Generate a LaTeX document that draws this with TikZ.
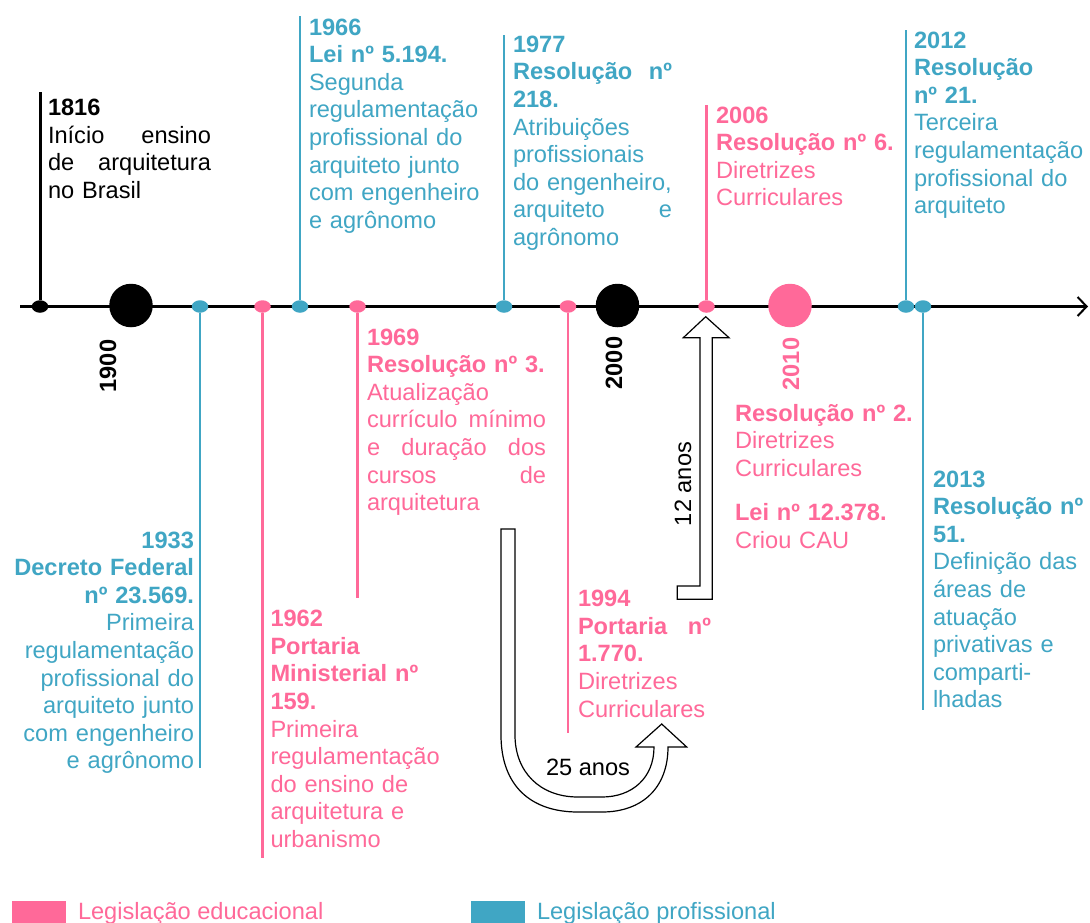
\documentclass[tikz,border=0pt]{standalone}
\usepackage{fontspec}
\setmainfont{Liberation Sans}
\usetikzlibrary{arrows.meta,shapes.geometric}
\definecolor{edu}{RGB}{255,105,153}
\definecolor{prof}{RGB}{64,166,196}
% one justified line, its spaces stretched to the given width
\newcommand{\jline}[2]{\makebox[#1][s]{\spaceskip=.278em plus 1fil\relax #2}}

\begin{document}
\begin{tikzpicture}[x=1pt,y=-1pt,
  txt/.style={inner sep=0pt, outer sep=0pt, anchor=base west, align=left,
              text width=230pt, font=\fontsize{23.6}{27.6}\selectfont},
  txtr/.style={txt, anchor=base east, align=right},
  yearlab/.style={inner sep=0pt, rotate=90, font=\fontsize{23.6}{27.6}\selectfont\bfseries},
  dotm/.style={ellipse, minimum width=16.5pt, minimum height=12.5pt, inner sep=0pt, draw=none},
  bigdot/.style={circle, minimum size=43.5pt, inner sep=0pt, draw=none},
  vline/.style={line width=2.8pt, #1},
  blockarrow/.style={draw=black, line width=1.2pt, fill=white, line join=miter},
  legbox/.style={inner sep=0pt, draw=none}
]
\useasboundingbox (0,0) rectangle (1090,922);
\clip (0,0) rectangle (1090,922);
\fill[white] (0,0) rectangle (1090,922);

% time axis
\coordinate (axL) at (20,306.5);
\coordinate (axR) at (1088,306.5);
\draw[line width=3pt, -{Straight Barb[length=9pt,width=19pt,line width=2pt]}] (axL) -- (axR);

% markers on the axis
\node[dotm, fill=black] (e1816) at (40,306.5) {};
\node[bigdot, fill=black] (c1900) at (131,305.5) {};
\node[dotm, fill=prof] (e1933) at (200,306.5) {};
\node[dotm, fill=edu] (e1962) at (262.5,306.5) {};
\node[dotm, fill=prof] (e1966) at (300,306.5) {};
\node[dotm, fill=edu] (e1969) at (357.5,306.5) {};
\node[dotm, fill=prof] (e1977) at (504,306.5) {};
\node[dotm, fill=edu] (e1994) at (568,306.5) {};
\node[bigdot, fill=black] (c2000) at (617.5,305.5) {};
\node[dotm, fill=edu] (e2006) at (706.5,306.5) {};
\node[bigdot, fill=edu] (c2010) at (790,305.5) {};
\node[dotm, fill=prof] (e2012) at (906,306.5) {};
\node[dotm, fill=prof] (e2013) at (923,306.5) {};

% ends of the stems
\coordinate (t1816) at (40,92);
\coordinate (t1933) at (200,768);
\coordinate (t1962) at (262.5,858);
\coordinate (t1966) at (300,16);
\coordinate (t1969) at (357.5,598);
\coordinate (t1977) at (504,35);
\coordinate (t1994) at (568,733);
\coordinate (t2006) at (706.5,105);
\coordinate (t2012) at (906,30);
\coordinate (t2013) at (923,710);

\draw[line width=3pt, black] (e1816) -- (t1816);
\draw[vline=prof] (e1933) -- (t1933);
\draw[vline=edu] (e1962) -- (t1962);
\draw[vline=prof] (e1966) -- (t1966);
\draw[vline=edu] (e1969) -- (t1969);
\draw[vline=prof] (e1977) -- (t1977);
\draw[vline=edu] (e1994) -- (t1994);
\draw[vline=edu] (e2006) -- (t2006);
\draw[vline=prof] (e2012) -- (t2012);
\draw[vline=prof] (e2013) -- (t2013);

% decade labels
\node[yearlab, black] (y1900) at (108,366) {1900};
\node[yearlab, black] (y2000) at (614,363) {2000};
\node[yearlab, edu] (y2010) at (791,364) {2010};

% event texts
\node[txt, black] (x1816) at (48,115.5)
  {\textbf{1816}\\ \jline{163pt}{Início ensino}\\ \jline{163pt}{de arquitetura}\\ no Brasil};

\node[txtr, prof] (x1933) at (194,548)
  {\textbf{1933}\\ \textbf{Decreto Federal}\\ \textbf{nº 23.569.}\\ Primeira\\ regulamentação\\
   profissional do\\ arquiteto junto\\ com engenheiro\\ e agrônomo};

\node[txt, edu] (x1962) at (270.5,626.7)
  {\textbf{1962}\\ \textbf{Portaria}\\ \textbf{Ministerial nº}\\ \textbf{159.}\\ Primeira\\
   regulamentação\\ do ensino de\\ arquitetura e\\ urbanismo};

\node[txt, prof] (x1966) at (309,35)
  {\textbf{1966}\\ \textbf{Lei nº 5.194.}\\ Segunda\\ regulamentação\\ profissional do\\
   arquiteto junto\\ com engenheiro\\ e agrônomo};

\node[txt, edu] (x1969) at (367,345)
  {\textbf{1969}\\ \textbf{Resolução nº 3.}\\ Atualização\\ \jline{179pt}{currículo mínimo}\\
   \jline{179pt}{e duração dos}\\ \jline{179pt}{cursos de}\\ arquitetura};

\node[txt, prof] (x1977) at (513,52.3)
  {\textbf{1977}\\ \jline{159pt}{\textbf{Resolução nº}}\\ \textbf{218.}\\ Atribuições\\ profissionais\\
   do engenheiro,\\ \jline{159pt}{arquiteto e}\\ agrônomo};

\node[txt, edu] (x1994) at (578,606.7)
  {\textbf{1994}\\ \jline{133pt}{\textbf{Portaria nº}}\\ \textbf{1.770.}\\ Diretrizes\\ Curriculares};

\node[txt, edu] (x2006) at (716,123)
  {\textbf{2006}\\ \textbf{Resolução nº 6.}\\ Diretrizes\\ Curriculares};

\node[txt, edu] (x2010) at (735,421)
  {\textbf{Resolução nº 2.}\\ Diretrizes\\ Curriculares\\[17pt] \textbf{Lei nº 12.378.}\\ Criou CAU};

\node[txt, prof] (x2012) at (914,48)
  {\textbf{2012}\\ \textbf{Resolução}\\ \textbf{nº 21.}\\ Terceira\\ regulamentação\\
   profissional do\\ arquiteto};

\node[txt, prof] (x2013) at (933,487)
  {\textbf{2013}\\ \textbf{Resolução nº}\\ \textbf{51.}\\ Definição das\\ áreas de\\ atuação\\
   privativas e\\ comparti-\\ lhadas};

% hollow arrow: 12 years
\draw[blockarrow] (705.7,316.7) -- (729,337.7) -- (712.3,337.7) -- (712.3,599.3)
  -- (677.3,599.3) -- (677.3,586) -- (700,586) -- (700,337.7) -- (683.3,337.7) -- cycle;
\node[inner sep=0pt, rotate=90, font=\fontsize{23.6}{27.6}\selectfont] (l12) at (683,484) {12 anos};

% hollow U-shaped arrow: 25 years
\draw[blockarrow] (501,529) -- (501,735)
  .. controls (501,785) and (530,812) .. (578,812) -- (602,812)
  .. controls (642,812) and (668,788) .. (668,747)
  -- (686.7,747) -- (661.7,724) -- (636,747) -- (654,747)
  .. controls (654,778) and (632,797) .. (602,797) -- (578,797)
  .. controls (540,797) and (515,772) .. (515,735) -- (515,529) -- cycle;
\node[inner sep=0pt, font=\fontsize{23.6}{27.6}\selectfont] (l25) at (588,767) {25 anos};

% legend
\node[legbox, fill=edu, minimum width=54pt, minimum height=26pt, anchor=north west] (kEdu) at (12,901) {};
\node[txt, edu, text width=] (kEduT) at (78,919) {Legislação educacional};
\node[legbox, fill=prof, minimum width=54pt, minimum height=26pt, anchor=north west] (kProf) at (471,901) {};
\node[txt, prof, text width=] (kProfT) at (537,919) {Legislação profissional};
\end{tikzpicture}
\end{document}
